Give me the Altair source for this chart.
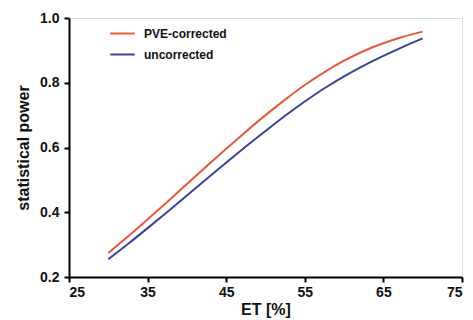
import altair as alt
import pandas as pd

et = [30, 32.5, 35, 37.5, 40, 42.5, 45, 47.5, 50, 52.5, 55, 57.5, 60, 62.5, 65, 67.5, 70]
pve_corrected = [0.274, 0.325, 0.378, 0.432, 0.487, 0.542, 0.596, 0.649, 0.700,
                 0.748, 0.793, 0.833, 0.868, 0.898, 0.922, 0.942, 0.958]
uncorrected = [0.255, 0.302, 0.351, 0.401, 0.452, 0.503, 0.553, 0.603, 0.651,
               0.698, 0.742, 0.783, 0.820, 0.853, 0.883, 0.911, 0.937]
series_names = ["PVE-corrected", "uncorrected"]
colors = ["#E8583A", "#3A4399"]

rows = []
for x, a, b in zip(et, pve_corrected, uncorrected):
    rows.append({"ET": x, "power": a, "series": series_names[0]})
    rows.append({"ET": x, "power": b, "series": series_names[1]})
df = pd.DataFrame(rows)

font = "Liberation Sans"

chart = alt.Chart(df).mark_line(strokeWidth=2, interpolate="monotone").encode(
    x=alt.X("ET:Q", title="ET [%]",
            scale=alt.Scale(domain=[25, 75], nice=False),
            axis=alt.Axis(values=[25, 35, 45, 55, 65, 75], grid=False,
                          domainColor="black", domainWidth=2, tickColor="black",
                          tickWidth=2, tickSize=5, labelFont=font, labelFontSize=14,
                          labelFontWeight="bold", labelColor="#111111", labelPadding=3,
                          titleFont=font, titleFontSize=16, titleFontWeight="bold",
                          titleColor="#111111", titlePadding=2)),
    y=alt.Y("power:Q", title="statistical power",
            scale=alt.Scale(domain=[0.2, 1.0], nice=False, zero=False),
            axis=alt.Axis(values=[0.2, 0.4, 0.6, 0.8, 1.0], format=".1f", grid=False,
                          domainColor="black", domainWidth=2, tickColor="black",
                          tickWidth=2, tickSize=5, labelFont=font, labelFontSize=14,
                          labelFontWeight="bold", labelColor="#111111", labelPadding=5,
                          titleFont=font, titleFontSize=16, titleFontWeight="bold",
                          titleColor="#111111", titlePadding=8)),
    color=alt.Color("series:N", sort=series_names,
                    scale=alt.Scale(domain=series_names, range=colors),
                    legend=alt.Legend(title=None, orient="none", legendX=40, legendY=2,
                                      symbolType="stroke", symbolSize=600,
                                      symbolStrokeWidth=2, labelFont=font,
                                      labelFontSize=12, labelFontWeight="bold",
                                      labelColor="#111111", rowPadding=1,
                                      labelOffset=8)),
).properties(
    width=393, height=259,
    autosize=alt.AutoSizeParams(type="none"),
    padding={"left": 69, "top": 18, "right": 11, "bottom": 43},
).configure_view(stroke=None).configure(background="white")

chart.save("out.html", embed_options={"renderer": "svg", "actions": False})
